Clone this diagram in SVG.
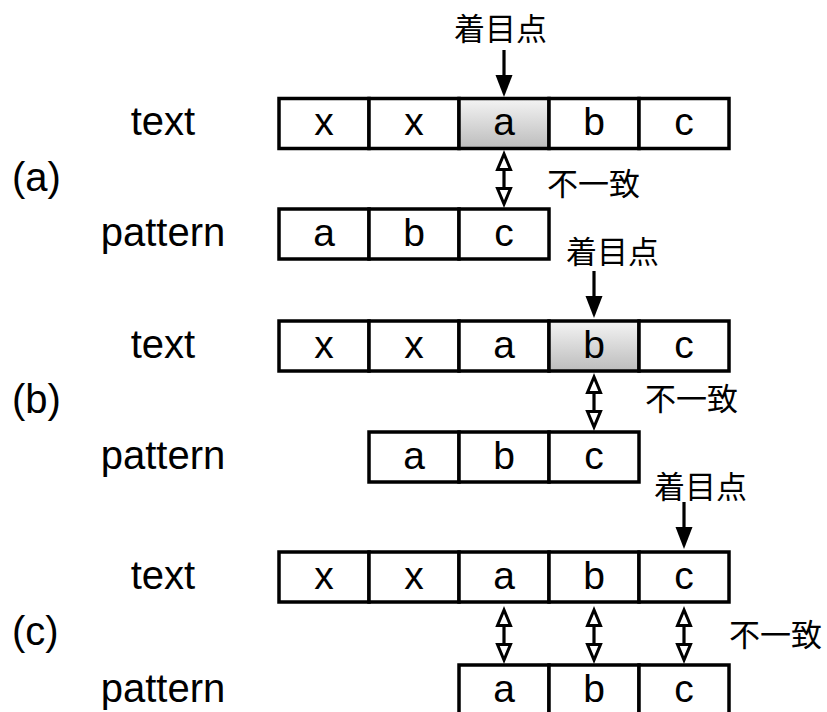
<svg xmlns="http://www.w3.org/2000/svg" xmlns:xlink="http://www.w3.org/1999/xlink" width="827" height="712" viewBox="0 0 827 712">
<style>
.cell{fill:#fff;stroke:#000;stroke-width:3.5}
.hl{fill:url(#g);stroke:#000;stroke-width:3.5}
.t{font-family:"Liberation Sans",Arial,sans-serif;font-size:40px;fill:#000}
.c{font-family:"Liberation Sans",Arial,sans-serif;font-size:39px;fill:#000;text-anchor:middle}
.j{font-family:"Noto Sans CJK JP","Noto Sans CJK SC",sans-serif;font-size:31px;fill:#000}
.ln{stroke:#000;stroke-width:3.2;fill:none}
.oh{fill:#fff;stroke:#000;stroke-width:3;stroke-linejoin:miter}
</style>
<defs>
<linearGradient id="g" x1="0" y1="0" x2="0" y2="1">
<stop offset="0" stop-color="#f4f4f4"/>
<stop offset="1" stop-color="#bcbcbc"/>
</linearGradient>
<g id="down">
<line class="ln" x1="0" y1="0" x2="0" y2="26"/>
<polygon points="-8.5,25 8.5,25 0,47" fill="#000"/>
</g>
<g id="dbl">
<line class="ln" x1="0" y1="17" x2="0" y2="37"/>
<polygon class="oh" points="0,2 -6.5,17.5 6.5,17.5"/>
<polygon class="oh" points="0,52 -6.5,36.5 6.5,36.5"/>
</g>
</defs>

<g id="labels">
<text class="t" x="163" y="135" text-anchor="middle">text</text>
<text class="t" x="163" y="246" text-anchor="middle">pattern</text>
<text class="t" x="12" y="191">(a)</text>
<text class="t" x="163" y="358" text-anchor="middle">text</text>
<text class="t" x="163" y="469" text-anchor="middle">pattern</text>
<text class="t" x="12" y="413">(b)</text>
<text class="t" x="163" y="589" text-anchor="middle">text</text>
<text class="t" x="163" y="702" text-anchor="middle">pattern</text>
<text class="t" x="12" y="645">(c)</text>
</g>

<g id="row-a-text">
<rect class="cell" x="279" y="98.5" width="90" height="50"/>
<rect class="cell" x="369" y="98.5" width="90" height="50"/>
<rect class="hl" x="459" y="98.5" width="90" height="50"/>
<rect class="cell" x="549" y="98.5" width="90" height="50"/>
<rect class="cell" x="639" y="98.5" width="90" height="50"/>
<text class="c" x="324" y="135">x</text>
<text class="c" x="414" y="135">x</text>
<text class="c" x="504" y="135">a</text>
<text class="c" x="594" y="135">b</text>
<text class="c" x="684" y="135">c</text>
</g>
<g id="row-a-pattern">
<rect class="cell" x="279" y="209" width="90" height="50"/>
<rect class="cell" x="369" y="209" width="90" height="50"/>
<rect class="cell" x="459" y="209" width="90" height="50"/>
<text class="c" x="324" y="246">a</text>
<text class="c" x="414" y="246">b</text>
<text class="c" x="504" y="246">c</text>
</g>

<g id="row-b-text">
<rect class="cell" x="279" y="321" width="90" height="50"/>
<rect class="cell" x="369" y="321" width="90" height="50"/>
<rect class="cell" x="459" y="321" width="90" height="50"/>
<rect class="hl" x="549" y="321" width="90" height="50"/>
<rect class="cell" x="639" y="321" width="90" height="50"/>
<text class="c" x="324" y="358">x</text>
<text class="c" x="414" y="358">x</text>
<text class="c" x="504" y="358">a</text>
<text class="c" x="594" y="358">b</text>
<text class="c" x="684" y="358">c</text>
</g>
<g id="row-b-pattern">
<rect class="cell" x="369" y="432" width="90" height="50"/>
<rect class="cell" x="459" y="432" width="90" height="50"/>
<rect class="cell" x="549" y="432" width="90" height="50"/>
<text class="c" x="414" y="469">a</text>
<text class="c" x="504" y="469">b</text>
<text class="c" x="594" y="469">c</text>
</g>

<g id="row-c-text">
<rect class="cell" x="279" y="552" width="90" height="50"/>
<rect class="cell" x="369" y="552" width="90" height="50"/>
<rect class="cell" x="459" y="552" width="90" height="50"/>
<rect class="cell" x="549" y="552" width="90" height="50"/>
<rect class="cell" x="639" y="552" width="90" height="50"/>
<text class="c" x="324" y="589">x</text>
<text class="c" x="414" y="589">x</text>
<text class="c" x="504" y="589">a</text>
<text class="c" x="594" y="589">b</text>
<text class="c" x="684" y="589">c</text>
</g>
<g id="row-c-pattern">
<rect class="cell" x="459" y="665" width="90" height="52"/>
<rect class="cell" x="549" y="665" width="90" height="52"/>
<rect class="cell" x="639" y="665" width="90" height="52"/>
<text class="c" x="504" y="702">a</text>
<text class="c" x="594" y="702">b</text>
<text class="c" x="684" y="702">c</text>
</g>

<g id="annotations">
<text class="j" x="454" y="40">着目点</text>
<text class="j" x="547" y="195">不一致</text>
<text class="j" x="566" y="263">着目点</text>
<text class="j" x="645" y="410">不一致</text>
<text class="j" x="654" y="498">着目点</text>
<text class="j" x="729" y="646">不一致</text>
</g>

<g id="connectors">
<use xlink:href="#down" x="504" y="50"/>
<use xlink:href="#dbl" x="504" y="152"/>
<use xlink:href="#down" x="594" y="271"/>
<use xlink:href="#dbl" x="594" y="375"/>
<use xlink:href="#down" x="684" y="502"/>
<use xlink:href="#dbl" x="504" y="608"/>
<use xlink:href="#dbl" x="594" y="608"/>
<use xlink:href="#dbl" x="684" y="608"/>
</g>
</svg>
